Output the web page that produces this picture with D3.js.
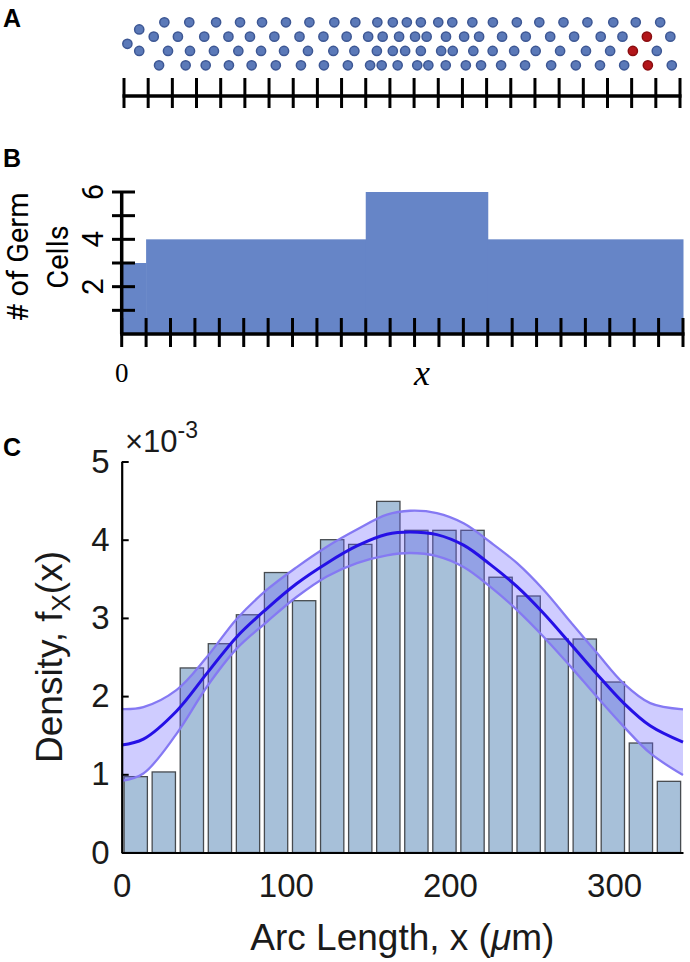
<!DOCTYPE html>
<html><head><meta charset="utf-8">
<script src="https://cdn.jsdelivr.net/npm/d3@7"></script>
<style>body{margin:0;background:#fff}svg{display:block}</style>
</head><body>
<svg id="c" width="690" height="962"></svg>
<script>
// ---------- Panel A data (position along axis units, row level) ----------
const rowA1 = [1.67,2.70,3.81,4.80,5.71,6.70,7.67,8.70,9.57,10.48,11.12,11.70,12.28,13.00,13.58,14.41,15.26,16.25,17.18,18.18,19.17,20.24,21.17,22.18];
const rowA2 = [1.23,2.23,3.32,4.32,5.21,6.22,7.26,8.25,9.21,10.10,10.70,11.38,12.04,12.52,13.32,14.07,14.69,15.64,16.62,17.63,18.62,19.72,20.62,22.60];
const rowA3 = [0.63,1.82,2.73,3.72,4.73,5.67,6.62,7.61,8.66,9.53,10.46,11.12,11.63,12.28,13.12,13.60,14.45,15.25,16.14,17.03,18.04,19.11,20.11,22.04];
const rowA4 = [1.45,2.55,3.38,4.34,5.28,6.28,7.32,8.27,9.26,10.18,10.66,11.32,12.13,12.59,13.31,14.14,14.77,15.60,16.59,17.67,18.69,19.69,20.69,22.66];
const extraA = [[0.63,1.5],[0.14,2.5]];
const redA = [[21.63,2],[21.05,3],[21.67,4]];
const ticksA = d3.range(0,24);

// ---------- Panel B data ----------
const stepEdgesB = [0,1,10,15,23];
const stepCountsB = [3,4,6,4];
const yTicksB = [1,2,3,4,5,6];
const yLabelsB = [2,4,6];
const xTicksB = d3.range(0,24);

// ---------- Panel C data ----------
const densityC = [0.97,1.03,2.36,2.67,3.04,3.58,3.22,4.00,3.94,4.49,4.12,4.12,4.12,3.52,3.28,2.73,2.73,2.18,1.40,0.91]; // x1e-3
const xMaxC = 342;
const curveX = [0,13.2,33.5,51.9,70.2,88.5,106.7,125,143.3,161.6,175.8,192,208.3,224.5,240.9,257,273.4,289.6,305.9,322,342];
const meanY = [1.375,1.45,1.81,2.29,2.76,3.12,3.44,3.70,3.92,4.07,4.10,4.065,3.93,3.685,3.40,3.06,2.67,2.28,1.91,1.62,1.41];
const bandUpper = [1.835,1.86,2.08,2.50,2.99,3.36,3.65,3.91,4.13,4.32,4.37,4.34,4.21,3.97,3.70,3.36,2.95,2.55,2.16,1.91,1.83];
const bandLower = [0.915,1.01,1.52,2.12,2.61,2.95,3.27,3.53,3.70,3.80,3.83,3.79,3.65,3.40,3.10,2.76,2.38,1.99,1.61,1.27,0.99];
const yTicksC = [0,1,2,3,4,5];
const xTicksC = [0,100,200,300];

const svg = d3.select('#c');
const SANS = 'Liberation Sans, Arial, sans-serif';
const LBL = 'Roboto, Open Sans, sans-serif';

// panel letters
[['A',27],['B',167],['C',456]].forEach(([t,y])=>{
  svg.append('text').attr('x',3).attr('y',y).text(t)
    .attr('font-family',SANS).attr('font-weight','bold').attr('font-size',25).attr('fill','#000');
});

// ================= Panel A =================
const xA = d3.scaleLinear([0,23],[124,680]);
const yA = d3.scaleLinear([1,4],[22.3,65.3]);
const gA = svg.append('g');
gA.append('line').attr('x1',xA(0)-1.5).attr('x2',xA(23)+1.5).attr('y1',96).attr('y2',96)
  .attr('stroke','#000').attr('stroke-width',3.5);
gA.selectAll('line.t').data(ticksA).join('line').attr('class','t')
  .attr('x1',d=>xA(d)).attr('x2',d=>xA(d)).attr('y1',78).attr('y2',108)
  .attr('stroke','#000').attr('stroke-width',3);
const blueDots = [];
[[rowA1,1],[rowA2,2],[rowA3,3],[rowA4,4]].forEach(([arr,r])=>arr.forEach(u=>blueDots.push([u,r])));
extraA.forEach(d=>blueDots.push(d));
gA.selectAll('circle.b').data(blueDots).join('circle').attr('class','b')
  .attr('cx',d=>xA(d[0])).attr('cy',d=>yA(d[1])).attr('r',4.6)
  .attr('fill','#5b79b8').attr('stroke','#3d5794').attr('stroke-width',1.5);
gA.selectAll('circle.r').data(redA).join('circle').attr('class','r')
  .attr('cx',d=>xA(d[0])).attr('cy',d=>yA(d[1])).attr('r',4.6)
  .attr('fill','#b3161a').attr('stroke','#8a0d10').attr('stroke-width',1.5);

// ================= Panel B =================
const xB = d3.scaleLinear([0,23],[121.7,683]);
const yB = d3.scaleLinear([0,6],[334,192]);
const gB = svg.append('g');
const stepData = stepCountsB.map((c,i)=>({x0:stepEdgesB[i],x1:stepEdgesB[i+1],c}));
gB.selectAll('rect').data(stepData).join('rect')
  .attr('x',d=>xB(d.x0)).attr('width',d=>xB(d.x1)-xB(d.x0)+0.5)
  .attr('y',d=>yB(d.c)).attr('height',d=>yB(0)-yB(d.c))
  .attr('fill','#6685c7');
gB.append('line').attr('x1',xB(0)-1.5).attr('x2',xB(23)+1.5).attr('y1',yB(0)).attr('y2',yB(0))
  .attr('stroke','#000').attr('stroke-width',3.5);
gB.selectAll('line.xt').data(xTicksB).join('line').attr('class','xt')
  .attr('x1',d=>xB(d)).attr('x2',d=>xB(d)).attr('y1',318).attr('y2',347)
  .attr('stroke','#000').attr('stroke-width',3);
gB.append('line').attr('x1',xB(0)).attr('x2',xB(0)).attr('y1',yB(6)).attr('y2',yB(0))
  .attr('stroke','#000').attr('stroke-width',3.5);
gB.selectAll('line.yt').data(yTicksB).join('line').attr('class','yt')
  .attr('x1',112).attr('x2',135).attr('y1',d=>yB(d)).attr('y2',d=>yB(d))
  .attr('stroke','#000').attr('stroke-width',3);
gB.selectAll('text.yl').data(yLabelsB).join('text').attr('class','yl')
  .attr('transform',d=>`translate(103,${yB(d)}) rotate(-90)`)
  .attr('text-anchor','middle').attr('font-family',LBL).attr('font-size',29)
  .text(d=>d);
[['# of Germ',28],['Cells',68]].forEach(([t,x])=>{
  gB.append('text').attr('transform',`translate(${x},257) rotate(-90)`)
    .attr('text-anchor','middle').attr('font-family',LBL).attr('font-size',29).text(t);
});
gB.append('text').attr('x',xB(0)).attr('y',382).attr('text-anchor','middle')
  .attr('font-family','Liberation Serif, serif').attr('font-size',27).text('0');
gB.append('text').attr('x',422).attr('y',385).attr('text-anchor','middle')
  .attr('font-family','Liberation Serif, serif').attr('font-style','italic').attr('font-size',36).text('x');

// ================= Panel C =================
const xC = d3.scaleLinear([0,xMaxC],[121.7,683]);
const yC = d3.scaleLinear([0,5],[852.5,461.5]);
const gC = svg.append('g');
const binW = xMaxC/densityC.length;
const barW = (xC(binW)-xC(0))*0.83;
gC.selectAll('rect').data(densityC).join('rect')
  .attr('x',(d,i)=>xC((i+0.5)*binW)-barW/2).attr('width',barW)
  .attr('y',d=>yC(d)).attr('height',d=>yC(0)-yC(d))
  .attr('fill','#a7c0d9').attr('stroke','#474b50').attr('stroke-width',1.3);

const pts = curveX.map((x,i)=>({x,m:meanY[i],u:bandUpper[i],l:bandLower[i]}));
const curve = d3.curveCatmullRom.alpha(0.5);
gC.append('path').datum(pts)
  .attr('d',d3.area().x(d=>xC(d.x)).y0(d=>yC(d.l)).y1(d=>yC(d.u)).curve(curve))
  .attr('fill','rgba(105,95,255,0.32)');
['u','l'].forEach(k=>{
  gC.append('path').datum(pts)
    .attr('d',d3.line().x(d=>xC(d.x)).y(d=>yC(d[k])).curve(curve))
    .attr('fill','none').attr('stroke','#8579f3').attr('stroke-width',2.3);
});
gC.append('path').datum(pts)
  .attr('d',d3.line().x(d=>xC(d.x)).y(d=>yC(d.m)).curve(curve))
  .attr('fill','none').attr('stroke','#2510e6').attr('stroke-width',3);

const yAxC = gC.append('g').attr('transform',`translate(${xC(0)},0)`)
  .call(d3.axisLeft(yC).tickValues(yTicksC).tickSizeInner(-7).tickSizeOuter(0).tickPadding(12).tickFormat(d3.format('d')));
const xAxC = gC.append('g').attr('transform',`translate(0,${yC(0)})`)
  .call(d3.axisBottom(xC).tickValues(xTicksC).tickSize(0).tickPadding(21).tickFormat(d3.format('d')));
[yAxC,xAxC].forEach(g=>{
  g.select('.domain').attr('stroke','#000').attr('stroke-width',2.2);
  g.selectAll('.tick line').attr('stroke','#000').attr('stroke-width',2);
  g.selectAll('.tick text').attr('font-family',SANS).attr('font-size',33).attr('fill','#1a1a1a');
});

const ex = gC.append('text').attr('x',125).attr('y',452).attr('font-family',SANS).attr('fill','#1a1a1a');
ex.append('tspan').attr('font-size',31).text('×10');
ex.append('tspan').attr('font-size',23).attr('dy',-14).text('-3');

const yt = gC.append('text').attr('transform',`translate(62,${(yC(0)+yC(5))/2}) rotate(-90)`)
  .attr('text-anchor','middle').attr('font-family',SANS).attr('font-size',37).attr('fill','#1a1a1a');
yt.append('tspan').text('Density, f');
yt.append('tspan').attr('font-size',26).attr('dy',8).text('X');
yt.append('tspan').attr('dy',-8).text('(x)');

const xt = gC.append('text').attr('x',(xC(0)+xC(xMaxC))/2).attr('y',950).attr('text-anchor','middle')
  .attr('font-family',SANS).attr('font-size',37).attr('fill','#1a1a1a');
xt.append('tspan').text('Arc Length, x (');
xt.append('tspan').attr('font-style','italic').text('μ');
xt.append('tspan').text('m)');
</script>
</body></html>
